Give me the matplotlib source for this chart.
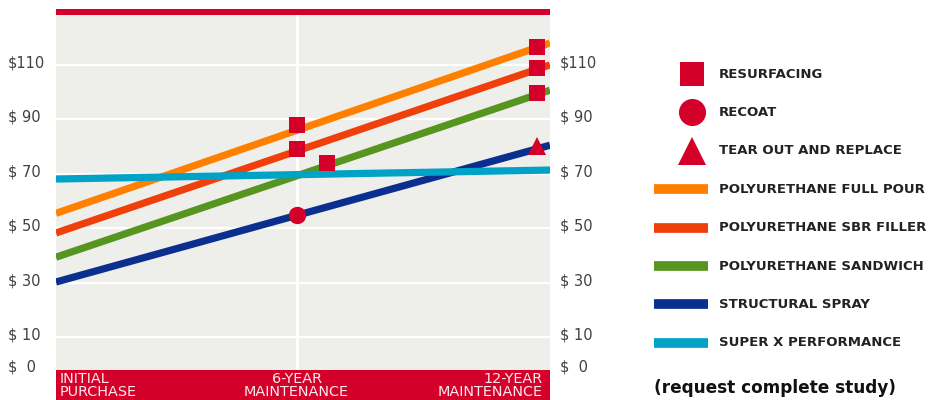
import matplotlib
matplotlib.use('Agg')
import matplotlib.pyplot as plt
from matplotlib.patches import Rectangle
import matplotlib.transforms as mtransforms

# ---- data ----
years = [0, 6, 12]
xtick_labels = ['INITIAL\nPURCHASE', '6-YEAR\nMAINTENANCE', '12-YEAR\nMAINTENANCE']

series_names = ['POLYURETHANE FULL POUR', 'POLYURETHANE SBR FILLER',
                'POLYURETHANE SANDWICH', 'STRUCTURAL SPRAY', 'SUPER X PERFORMANCE']
series_colors = ['#FF8000', '#EF400C', '#56951F', '#0A2F8E', '#00A2C6']
# cost at initial purchase and at 12-year maintenance
cost_start = [55.5, 48.3, 39.4, 30.3, 68.1]
cost_12yr = [116.4, 108.4, 99.1, 79.2, 71.3]

resurf_x = [6, 6, 6.75, 12, 12, 12]
resurf_y = [87.9, 79.0, 73.9, 116.6, 108.7, 99.5]
recoat_x = [6]
recoat_y = [54.9]
tear_x = [12]
tear_y = [80.2]

yticks = [0, 10, 30, 50, 70, 90, 110]
ytick_labels = ['$  0', '$ 10', '$ 30', '$ 50', '$ 70', '$ 90', '$110']

RED = '#D40029'
BG = '#EEEEEA'

fig = plt.figure(figsize=(9.32, 4.0), dpi=100)
W, H = 932, 400

# red bars top/bottom (behind everything)
bg = fig.add_axes([0, 0, 1, 1], zorder=-2)
bg.set_xlim(0, W)
bg.set_ylim(H, 0)
bg.axis('off')
bg.add_patch(Rectangle((56, 9), 494, 6.5, color=RED, lw=0))
bg.add_patch(Rectangle((56, 370), 494, 30, color=RED, lw=0))

ax = fig.add_axes([56 / W, 30 / H, 494 / W, 355 / H])
ax.set_facecolor(BG)
ax.set_xlim(0, 12.32)
ax.set_ylim(-2.0, 128.3)
for s in ax.spines.values():
    s.set_visible(False)

# grid
for v in yticks[1:]:
    ax.axhline(v, color='white', lw=1.6, zorder=1)
ax.axvline(6, color='white', lw=2, zorder=1)

# lines (drawn in this order so cyan sits on top)
order = [3, 2, 1, 0, 4]
for i in order:
    ax.axline((years[0], cost_start[i]), (years[-1], cost_12yr[i]),
              color=series_colors[i], lw=5.2, zorder=2, solid_capstyle='butt')

# event markers
ax.plot(resurf_x, resurf_y, 's', color=RED, ms=11.5, mew=0, zorder=4, clip_on=False)
ax.plot(recoat_x, recoat_y, 'o', color=RED, ms=12.5, mew=0, zorder=4)
ax.plot(tear_x, tear_y, '^', color=RED, ms=13, mew=0, zorder=4)

# x tick labels inside the red band
ax.set_xticks(years)
ax.set_xticklabels(xtick_labels, fontsize=10.4, color='#FBE9EC',
                   linespacing=0.88, fontfamily='DejaVu Sans')
ax.tick_params(axis='x', length=0, pad=1.5)
for lab, ha, dx in zip(ax.get_xticklabels(), ['left', 'center', 'right'], [4, 0, 5]):
    lab.set_ha(ha)
    lab.set_multialignment(ha)
    lab.set_transform(lab.get_transform() +
                      mtransforms.ScaledTranslation(dx / 100, 0, fig.dpi_scale_trans))

# y labels on both sides
ax.set_yticks([])
blend = mtransforms.blended_transform_factory(ax.transAxes, ax.transData)
for v, lab in zip(yticks, ytick_labels):
    yy = -0.9 if v == 0 else v + 0.7
    ax.text(-48 / 494, yy, lab, transform=blend, ha='left', va='center',
            fontsize=10.5, color='#404040')
    ax.text(1 + 10 / 494, yy, lab, transform=blend, ha='left', va='center',
            fontsize=10.5, color='#404040')

# legend drawn by hand
lg = fig.add_axes([0, 0, 1, 1])
lg.set_xlim(0, W)
lg.set_ylim(H, 0)
lg.axis('off')
lg.patch.set_alpha(0)

leg_labels = ['RESURFACING', 'RECOAT', 'TEAR OUT AND REPLACE'] + series_names
y0, step = 74, 38.4
lg.plot([692], [y0], 's', color=RED, ms=17.5, mew=0)
lg.plot([692], [y0 + step], 'o', color=RED, ms=19.5, mew=0)
lg.plot([692], [y0 + 2 * step], '^', color=RED, ms=19.5, mew=0)
for k, c in enumerate(series_colors):
    yy = y0 + (k + 3) * step
    lg.plot([654, 708], [yy, yy], color=c, lw=7, solid_capstyle='butt')
for k, lab in enumerate(leg_labels):
    lg.text(719, y0 + k * step, lab, ha='left', va='center', fontsize=9.5,
            fontweight='bold', color='#222222', fontfamily='DejaVu Sans')

lg.text(654, 388, '(request complete study)', ha='left', va='center',
        fontsize=12.2, fontweight='bold', color='#111111')

fig.savefig('out.png', dpi=100)
